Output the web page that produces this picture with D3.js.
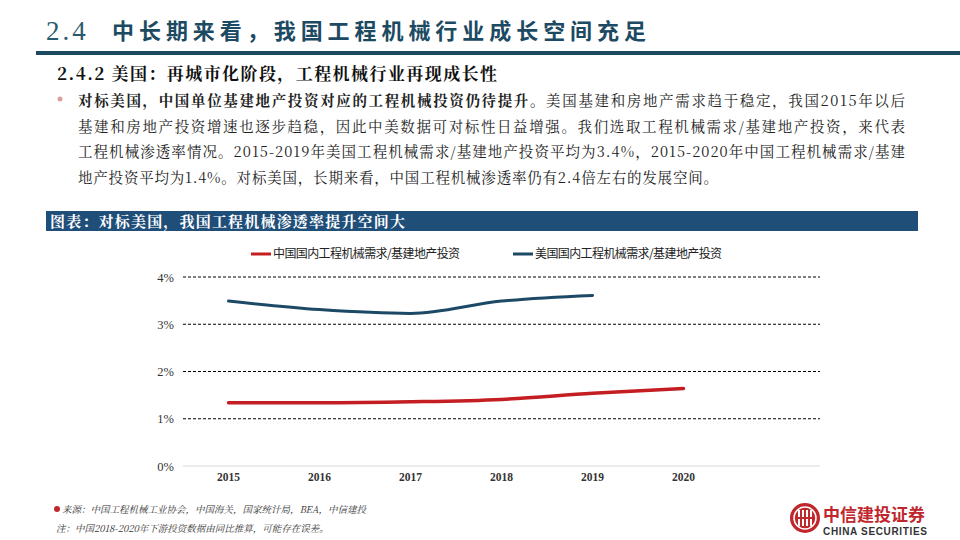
<!DOCTYPE html>
<html><head><meta charset="utf-8">
<script src="https://cdn.jsdelivr.net/npm/d3@7"></script>
<style>
html,body{margin:0;padding:0;background:#fff;}
svg{display:block;}
</style></head>
<body>
<svg id="c" width="960" height="540"></svg>
<script>
const years = ["2015","2016","2017","2018","2019","2020"];
const chinaValues = [1.34, 1.34, 1.36, 1.41, 1.54, 1.64];
const usValues = [3.49, 3.31, 3.23, 3.49, 3.61, null];
const yTicks = [0, 1, 2, 3, 4];
const seriesNames = ["中国国内工程机械需求/基建地产投资", "美国国内工程机械需求/基建地产投资"];
const bodyLines = [
  ["对标美国，中国单位基建地产投资对应的工程机械投资仍待提升。", "美国基建和房地产需求趋于稳定，我国2015年以后"],
  ["", "基建和房地产投资增速也逐步趋稳，因此中美数据可对标性日益增强。我们选取工程机械需求/基建地产投资，来代表"],
  ["", "工程机械渗透率情况。2015-2019年美国工程机械需求/基建地产投资平均为3.4%，2015-2020年中国工程机械需求/基建"],
  ["", "地产投资平均为1.4%。对标美国，长期来看，中国工程机械渗透率仍有2.4倍左右的发展空间。"]
];

const svg = d3.select("#c");
const serif = "'Noto Serif CJK SC','Liberation Serif','DejaVu Serif','Noto Sans CJK SC',serif";
const sansCJK = "'Noto Sans CJK SC','Noto Sans',sans-serif";
const dark = "#1d4a63";
const red = "#c0272d";

// Title
svg.append("text").attr("x", 46).attr("y", 40).attr("fill", "#2a5a6e")
  .attr("font-family", "'Liberation Serif',serif").attr("font-size", 27).attr("letter-spacing", 3).text("2.4");
svg.append("text").attr("x", 112).attr("y", 39).attr("fill", dark)
  .attr("font-family", sansCJK).attr("font-weight", "bold").attr("font-size", 22)
  .attr("textLength", 534).attr("lengthAdjust", "spacing").text("中长期来看，我国工程机械行业成长空间充足");
svg.append("rect").attr("x", 36).attr("y", 51).attr("width", 924).attr("height", 4).attr("fill", dark);

// Subtitle
svg.append("text").attr("x", 57).attr("y", 80).attr("font-family", serif).attr("font-weight", "bold")
  .attr("font-size", 17).attr("fill", "#111").attr("textLength", 440).attr("lengthAdjust", "spacing")
  .text("2.4.2 美国：再城市化阶段，工程机械行业再现成长性");

// Bullet
svg.append("circle").attr("cx", 60).attr("cy", 99).attr("r", 2.5).attr("fill", "#d9a0a0");

// Body
const lineWidths = [827, 827, 827, 640];
bodyLines.forEach((ln, i) => {
  const tx = svg.append("text").attr("x", 78).attr("y", 106 + i * 25.5)
    .attr("font-family", serif).attr("font-size", 14.5).attr("fill", "#222")
    .attr("textLength", lineWidths[i]).attr("lengthAdjust", "spacing");
  if (ln[0]) tx.append("tspan").attr("font-weight", "bold").text(ln[0]);
  tx.append("tspan").text(ln[1]);
});

// Chart header bar
svg.append("rect").attr("x", 46).attr("y", 211).attr("width", 872).attr("height", 20).attr("fill", "#1f4e79");
svg.append("text").attr("x", 50).attr("y", 226.5).attr("font-family", serif).attr("font-weight", "bold")
  .attr("font-size", 15).attr("fill", "#fff").attr("textLength", 355).attr("lengthAdjust", "spacing")
  .text("图表：对标美国，我国工程机械渗透率提升空间大");

// Scales
const x = d3.scaleBand().domain(years).range([183, 729]);
const y = d3.scaleLinear().domain([0, 4]).range([466, 277]);
const gridRight = 820;

// Gridlines
const g = svg.append("g");
yTicks.forEach(v => {
  g.append("line").attr("x1", 183).attr("x2", gridRight).attr("y1", y(v)).attr("y2", y(v))
    .attr("stroke", v === 0 ? "#d9d9d9" : "#000").attr("stroke-width", 1)
    .attr("stroke-dasharray", v === 0 ? null : "3,2");
});

// Y axis labels
const yAxis = d3.axisLeft(y).tickValues(yTicks).tickFormat(d => d + "%").tickSize(0).tickPadding(0);
svg.append("g").attr("transform", "translate(174,0)").call(yAxis)
  .call(s => s.select(".domain").remove())
  .selectAll("text").attr("font-family", "'Liberation Serif',serif").attr("font-size", 12.5).attr("fill", "#333");

// X axis labels
const xAxis = d3.axisBottom(x).tickSize(0).tickPadding(0);
svg.append("g").attr("transform", "translate(0,473)").call(xAxis)
  .call(s => s.select(".domain").remove())
  .selectAll("text").attr("font-family", "'Liberation Serif',serif").attr("font-size", 11.5)
  .attr("font-weight", "bold").attr("fill", "#333");

// Lines
const line = d3.line().defined(d => d.v != null)
  .x(d => x(d.k) + x.bandwidth() / 2).y(d => y(d.v)).curve(d3.curveMonotoneX);
svg.append("path").datum(years.map((k, i) => ({k, v: usValues[i]})))
  .attr("d", line).attr("fill", "none").attr("stroke", "#1c4966").attr("stroke-width", 3).attr("stroke-linecap", "round");
svg.append("path").datum(years.map((k, i) => ({k, v: chinaValues[i]})))
  .attr("d", line).attr("fill", "none").attr("stroke", "#c41e23").attr("stroke-width", 3.5).attr("stroke-linecap", "round");

// Legend
const legend = [
  {name: seriesNames[0], color: "#c41e23", x: 251},
  {name: seriesNames[1], color: "#1c4966", x: 513}
];
legend.forEach(l => {
  svg.append("line").attr("x1", l.x).attr("x2", l.x + 20).attr("y1", 254).attr("y2", 254)
    .attr("stroke", l.color).attr("stroke-width", 3);
  svg.append("text").attr("x", l.x + 22).attr("y", 258).attr("font-family", sansCJK)
    .attr("font-size", 12).attr("fill", "#222").attr("letter-spacing", -0.6).text(l.name);
});

// Footer
svg.append("circle").attr("cx", 57).attr("cy", 509).attr("r", 3).attr("fill", red);
svg.append("text").attr("x", 62).attr("y", 513).attr("font-family", serif).attr("font-style", "italic")
  .attr("font-size", 9.5).attr("fill", "#333")
  .text("来源：中国工程机械工业协会，中国海关，国家统计局，BEA，中信建投");
svg.append("text").attr("x", 56).attr("y", 532).attr("font-family", serif).attr("font-style", "italic")
  .attr("font-size", 9.5).attr("fill", "#333")
  .text("注：中国2018-2020年下游投资数据由同比推算，可能存在误差。");

// Logo
const logo = svg.append("g").attr("transform", "translate(805,518)");
logo.append("circle").attr("r", 15).attr("fill", red);
logo.append("circle").attr("r", 11).attr("fill", "none").attr("stroke", "#fff").attr("stroke-width", 1.5);
[-6, -2, 2, 6].forEach(dx => logo.append("rect").attr("x", dx - 1).attr("y", -8).attr("width", 2).attr("height", 16).attr("fill", "#fff"));
logo.append("rect").attr("x", -9).attr("y", -1).attr("width", 18).attr("height", 2).attr("fill", red);
svg.append("text").attr("x", 823).attr("y", 521).attr("font-family", sansCJK).attr("font-weight", "bold")
  .attr("font-size", 17).attr("fill", red).text("中信建投证券");
svg.append("text").attr("x", 823).attr("y", 535).attr("font-family", "'Liberation Sans',Arial,sans-serif")
  .attr("font-weight", "bold").attr("font-size", 10).attr("fill", "#333").attr("textLength", 104).text("CHINA SECURITIES");
</script>
</body></html>
